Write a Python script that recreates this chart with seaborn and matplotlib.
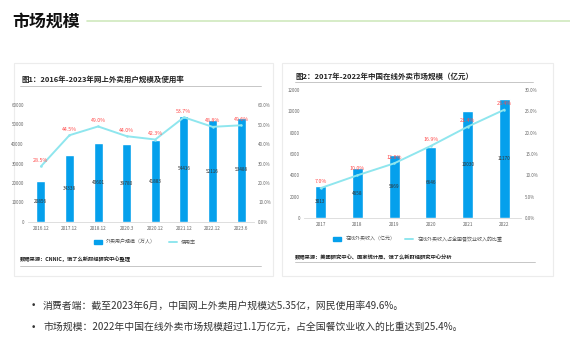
import numpy as np
import pandas as pd
import seaborn as sns
import matplotlib.pyplot as plt
from matplotlib.patches import Patch, Rectangle
from matplotlib.lines import Line2D

# chart 1: online delivery users and usage rate
periods1 = ["2016.12", "2017.12", "2018.12", "2020.3", "2020.12", "2021.12", "2022.12", "2023.6"]
users = [20856, 34338, 40601, 39780, 41883, 54416, 52116, 53488]
usage_rate = [28.5, 44.5, 49.0, 44.0, 42.3, 53.7, 48.8, 49.6]

# chart 2: online delivery market size and share of catering revenue
years2 = ["2017", "2018", "2019", "2020", "2021", "2022"]
revenue = [3013, 4658, 5869, 6646, 10030, 11170]
share = [7.0, 10.0, 12.8, 16.9, 21.4, 25.4]

BAR = "#05a0ec"
LINE = "#8fe6ee"
RED = "#ff4a4a"

W, H = 570, 360

sns.set_style("white")
plt.rcParams["font.family"] = ["Noto Sans CJK SC", "DejaVu Sans"]

fig = plt.figure(figsize=(W / 100, H / 100), dpi=100)


def box(l, t, r, b):
    return [l / W, 1 - b / H, (r - l) / W, (b - t) / H]


def fx(x):
    return x / W


def fy(y):
    return 1 - y / H


def combo_chart(rect, cats, bars, rates, ymax, rmax, ystep, rstep, rfmt, bar_w):
    ax = fig.add_axes(box(*rect), zorder=2)
    ax.patch.set_alpha(0)
    df = pd.DataFrame({"cat": cats, "val": bars})
    sns.barplot(data=df, x="cat", y="val", color=BAR, width=bar_w, saturation=1, ax=ax)
    ax.set_ylim(0, ymax)
    ax.set_xlim(-0.45, len(cats) - 0.55)
    ax.set_yticks(np.arange(0, ymax + 1, ystep))
    ax.set_yticklabels([f"{int(v)}" for v in np.arange(0, ymax + 1, ystep)])
    ax.set_xlabel("")
    ax.set_ylabel("")
    for i, v in enumerate(bars):
        ax.text(i, v / 2, f"{v}", ha="center", va="center", fontsize=3.4, color="#333333")

    ax2 = ax.twinx()
    ax2.patch.set_alpha(0)
    sns.lineplot(x=np.arange(len(cats)), y=rates, color=LINE, lw=1.4, marker="o",
                 markersize=1.8, markeredgewidth=0, ax=ax2)
    ax2.set_ylim(0, rmax)
    ticks = np.arange(0, rmax + 0.01, rstep)
    ax2.set_yticks(ticks)
    ax2.set_yticklabels([rfmt.format(t) for t in ticks])
    for i, r in enumerate(rates):
        ax2.text(i, r + rmax * 0.03, f"{r:.1f}%", ha="center", va="bottom",
                 fontsize=3.8, color=RED)

    for a in (ax, ax2):
        for s in a.spines.values():
            s.set_visible(False)
        a.tick_params(length=0, labelsize=3.2, labelcolor="#666666", pad=3)
    ax.spines["bottom"].set_visible(True)
    ax.spines["bottom"].set_color("#d9d9d9")
    ax.spines["bottom"].set_linewidth(0.6)
    ax.tick_params(axis="x", labelsize=3.4, pad=3)
    return ax


# panel cards
for l, t, r, b in [(14, 63, 273, 276), (282, 63, 553, 276)]:
    fig.patches.append(Rectangle((fx(l), fy(b)), fx(r - l), (b - t) / H,
                                 transform=fig.transFigure, facecolor="white",
                                 edgecolor="#ececec", lw=0.8, zorder=-5))

# page title and green rule
fig.text(fx(12), fy(22), "市场规模", fontsize=12.2, fontweight="heavy", color="#111111",
         ha="left", va="center")
fig.add_artist(Line2D([fx(87), fx(570)], [fy(21), fy(21)], color="#cfe9bd", lw=1.2))

# chart 1
fig.text(fx(21), fy(79), "图1：2016年-2023年网上外卖用户规模及使用率", fontsize=5.4,
         fontweight="bold", color="#222222", va="center")
fig.add_artist(Line2D([fx(20), fx(261)], [fy(86), fy(86)], color="#bdbdbd", lw=0.6))
combo_chart((28, 105, 254, 222), periods1, users, usage_rate, 60000, 60, 10000, 10, "{:.1f}%", 0.32)
fig.legend(handles=[Patch(color=BAR, label="外卖用户规模（万人）"),
                    Line2D([], [], color=LINE, lw=1.4, label="使用率")],
           loc="center", bbox_to_anchor=(fx(145), fy(242)), ncol=2, frameon=False,
           fontsize=3.6, handlelength=1.6, handleheight=0.7, columnspacing=2.5,
           labelcolor="#555555")
fig.text(fx(20), fy(259), "数据来源：CNNIC，饿了么新财经研究中心整理", fontsize=3.8,
         fontweight="bold", style="italic", color="#222222", va="center")
fig.add_artist(Line2D([fx(20), fx(261)], [fy(266), fy(266)], color="#bdbdbd", lw=0.6))

# chart 2
fig.text(fx(295), fy(76), "图2：2017年-2022年中国在线外卖市场规模（亿元）", fontsize=5.4,
         fontweight="bold", color="#222222", va="center")
fig.add_artist(Line2D([fx(295), fx(533)], [fy(82), fy(82)], color="#bdbdbd", lw=0.6))
combo_chart((304, 90, 521, 218), years2, revenue, share, 12000, 30, 2000, 5, "{:.1f}%", 0.3)
fig.legend(handles=[Patch(color=BAR, label="在线外卖收入（亿元）"),
                    Line2D([], [], color=LINE, lw=1.4, label="在线外卖收入占全国餐饮业收入的比重")],
           loc="center", bbox_to_anchor=(fx(418), fy(239)), ncol=2, frameon=False,
           fontsize=3.6, handlelength=1.6, handleheight=0.7, columnspacing=2.0,
           labelcolor="#555555")
fig.text(fx(295), fy(257), "数据来源：美团研究中心、国家统计局、饿了么新财经研究中心分析",
         fontsize=3.8, fontweight="bold", style="italic", color="#222222", va="center")
fig.add_artist(Line2D([fx(295), fx(535)], [fy(262), fy(262)], color="#bdbdbd", lw=0.6))

# bullet notes
notes = [
    "消费者端：截至2023年6月，中国网上外卖用户规模达5.35亿，网民使用率49.6%。",
    "市场规模：2022年中国在线外卖市场规模超过1.1万亿元，占全国餐饮业收入的比重达到25.4%。",
]
for y, line in zip([306, 327], notes):
    fig.text(fx(33), fy(y), "•", fontsize=6.5, color="#333333", ha="center", va="center",
             family="DejaVu Sans")
    fig.text(fx(43), fy(y), line, fontsize=7.1, color="#333333", va="center")

fig.savefig("out.png", dpi=100, facecolor="white")
